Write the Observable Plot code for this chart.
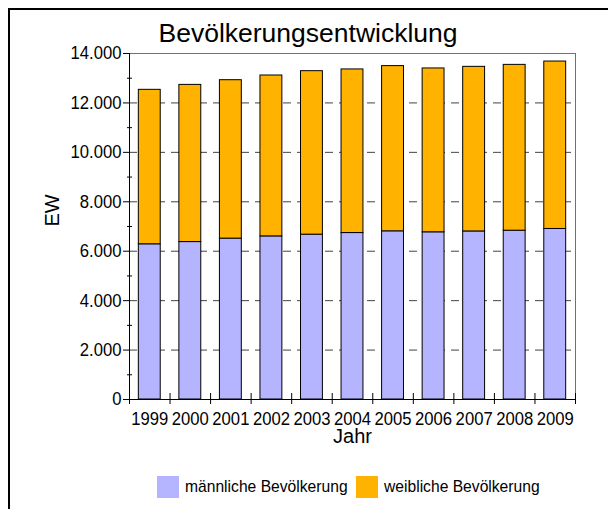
<!DOCTYPE html>
<html>
<head>
<meta charset="utf-8">
<script src="https://cdn.jsdelivr.net/npm/d3@7"></script>
<script src="https://cdn.jsdelivr.net/npm/@observablehq/plot@0.6"></script>
<style>
  body { margin: 0; background: #fff; }
  #wrap { position: relative; width: 608px; height: 509px; overflow: hidden; background: #fff; }
  #border { position: absolute; left: 8px; top: 8px; width: 620px; height: 520px; border-top: 2px solid #000; border-left: 2px solid #000; }
  #title { position: absolute; left: 0; top: 20px; width: 616px; text-align: center; font: 26.5px/26px "Liberation Sans", Arial, sans-serif; color: #000; }
  #chart { position: absolute; left: 0; top: 0; }
  #legend { position: absolute; left: 157px; top: 476px; display: flex; align-items: center; font: 17px/22px "Liberation Sans", Arial, sans-serif; color: #000; white-space: nowrap; }
  .sw { width: 22px; height: 22px; margin-right: 6px; flex: none; }
  .lab { display: inline-block; transform: scaleX(0.92); transform-origin: 0 50%; }
</style>
</head>
<body>
<div id="wrap">
  <div id="border"></div>
  <div id="chart"></div>
  <div id="title">Bevölkerungsentwicklung</div>
  <div id="legend"></div>
</div>
<script>
const years = [1999, 2000, 2001, 2002, 2003, 2004, 2005, 2006, 2007, 2008, 2009];
const male = [6280, 6370, 6510, 6600, 6670, 6735, 6805, 6765, 6800, 6830, 6900];
const female = [6250, 6360, 6410, 6510, 6615, 6620, 6685, 6630, 6660, 6710, 6775];
const seriesNames = ["männliche Bevölkerung", "weibliche Bevölkerung"];
const seriesColors = ["#b4b4ff", "#ffb200"];
const yTicks = [0, 2000, 4000, 6000, 8000, 10000, 12000, 14000];
const yMinorTicks = [1000, 3000, 5000, 7000, 9000, 11000, 13000];
const yLabel = "EW";
const xLabel = "Jahr";

const regular = '"Liberation Sans", Arial, sans-serif';
const squeeze = 0.9;
const legendSqueeze = 0.92;

const de = d3.formatLocale({decimal: ",", thousands: ".", grouping: [3], currency: ["", " €"]});
const fmt = de.format(",d");

const data = years.flatMap((yr, i) => [
  {year: yr, series: seriesNames[0], value: male[i]},
  {year: yr, series: seriesNames[1], value: female[i]}
]);

const xDomain = [years[0] - 0.5, years[years.length - 1] + 0.5];
const boundaries = [...years.map(y => y - 0.5), years[years.length - 1] + 0.5];
const half = 0.27;

const chart = Plot.plot({
  width: 608,
  height: 460,
  marginLeft: 129,
  marginRight: 33,
  marginTop: 53,
  marginBottom: 61,
  x: {domain: xDomain, axis: null},
  y: {domain: [yTicks[0], yTicks[yTicks.length - 1]], axis: null},
  color: {domain: seriesNames, range: seriesColors},
  style: {fontFamily: regular, fontSize: "18.5px", color: "#000", background: "transparent", overflow: "visible"},
  marks: [
    Plot.gridY({ticks: yTicks.slice(1, -1), stroke: "#444", strokeOpacity: 1, strokeDasharray: "8,6"}),
    Plot.rectY(data, Plot.stackY({
      x1: d => d.year - half,
      x2: d => d.year + half,
      y: "value",
      fill: "series",
      stroke: "#000",
      strokeWidth: 1
    })),
    Plot.ruleY([yTicks[yTicks.length - 1]], {stroke: "#707070"}),
    Plot.ruleX([xDomain[1]], {stroke: "#707070"}),
    Plot.ruleX([xDomain[0]], {stroke: "#000"}),
    Plot.ruleY([0], {stroke: "#000"}),
    Plot.axisY({ticks: yTicks, tickSize: 6, tickPadding: 2, tickFormat: fmt, label: null}),
    Plot.axisY({ticks: yMinorTicks, tickSize: 5, dx: 3, tickFormat: () => "", label: null}),
    Plot.axisX({ticks: boundaries, tickSize: 11, dy: -6, tickFormat: () => "", label: null}),
    Plot.axisX({ticks: years, tickSize: 0, tickPadding: 12, tickFormat: d => String(d), label: null}),
    Plot.text([yLabel], {text: d => d, frameAnchor: "left", dx: -77, rotate: -90, fontSize: 20, fontFamily: regular}),
    Plot.text([xLabel], {text: d => d, frameAnchor: "bottom", dy: 43, fontSize: 20, fontFamily: regular})
  ]
});
document.getElementById("chart").appendChild(chart);

// condense the tick labels, like the narrow face of the original
chart.querySelectorAll('g[aria-label$="tick label"] text').forEach(t => {
  const w = t.getComputedTextLength();
  if (w > 0) {
    t.setAttribute("textLength", (w * squeeze).toFixed(2));
    t.setAttribute("lengthAdjust", "spacingAndGlyphs");
  }
});

const legend = document.getElementById("legend");
seriesNames.forEach((name, i) => {
  const sw = document.createElement("div");
  sw.className = "sw";
  sw.style.background = seriesColors[i];
  const lab = document.createElement("span");
  lab.className = "lab";
  lab.textContent = name;
  legend.appendChild(sw);
  legend.appendChild(lab);
  const w = lab.getBoundingClientRect().width / legendSqueeze;
  lab.style.marginRight = (-(1 - legendSqueeze) * w + (i < seriesNames.length - 1 ? 8 : 0)).toFixed(2) + "px";
});
</script>
</body>
</html>
